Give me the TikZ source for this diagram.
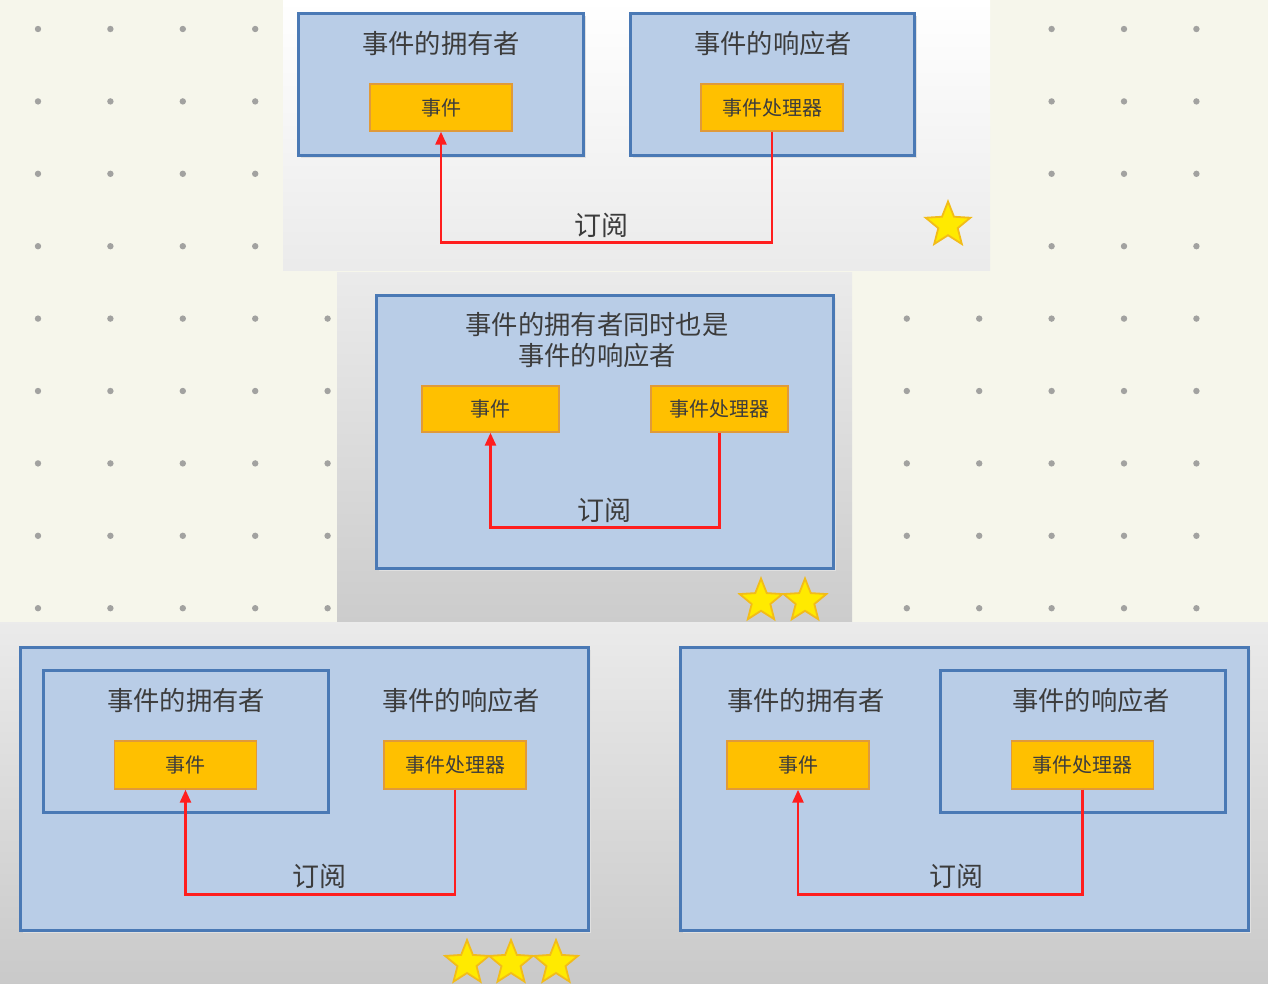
\documentclass[tikz,border=0pt]{standalone}
\usepackage{fontspec}
\setmainfont{Noto Sans CJK SC}
\usetikzlibrary{shapes.geometric,arrows.meta}
\definecolor{cream}{HTML}{F6F6EB}
\definecolor{dotgray}{HTML}{A2A2A0}
\definecolor{boxfill}{HTML}{B9CDE7}
\definecolor{boxline}{HTML}{4A79B5}
\definecolor{evfill}{HTML}{FFC000}
\definecolor{evline}{HTML}{E09A3A}
\definecolor{txt}{HTML}{3C3C3C}
\definecolor{subred}{HTML}{FF1E1E}
\definecolor{staryel}{HTML}{FFEA00}
\definecolor{starorg}{HTML}{F2BC1A}
\tikzset{
  bluebox/.style={draw=boxline, fill=boxfill, line width=3pt, inner sep=0pt},
  evbox/.style={draw=evline, fill=evfill, line width=1.4pt, inner sep=0pt,
    minimum width=142, minimum height=47, text=txt, font=\fontsize{20}{22}\selectfont},
  title/.style={text=txt, inner sep=0pt, font=\fontsize{26.3}{31}\selectfont, align=center},
  sublabel/.style={text=txt, inner sep=0pt, font=\fontsize{27}{30}\selectfont},
  subline/.style={draw=subred, line width=2.6pt, -{Triangle[width=11pt,length=13pt]}},
  starbox/.style={star, star points=5, star point ratio=2.3, fill=staryel,
    draw=starorg, line width=1.8pt, minimum size=47, inner sep=0pt},
  dotmark/.style={fill=dotgray},
  shadowbox/.style={fill=black!12}
}
\begin{document}
\begin{tikzpicture}[x=1pt,y=-1pt]
\useasboundingbox (0,0) rectangle (1268,983);
\fill[cream] (0,0) rectangle (1268,983);
% dot grid
\foreach \i in {0,...,16} {
  \foreach \j in {0,...,8} {
    \fill[dotmark] ({38+72.4*\i},{29+72.4*\j}) circle (3.2);
  }
}
% panels
\shade[top color=white, bottom color=black!8] (283,0) rectangle (990,270);
\shade[top color=black!8, bottom color=black!20] (337,272) rectangle (852,622);
\shade[top color=black!8, bottom color=black!21] (0,622) rectangle (1268,983);

% ===== panel 1 =====
\fill[shadowbox] (301,16) rectangle (586,158);
\fill[shadowbox] (633,16) rectangle (917,158);
\node[bluebox, minimum width=285, minimum height=142] (own1) at (440.5,84) {};
\node[bluebox, minimum width=284, minimum height=142] (res1) at (772,84) {};
\node[title] (own1t) at (441,43) {事件的拥有者};
\node[title] (res1t) at (773,43) {事件的响应者};
\node[evbox] (ev1) at (441,107.5) {事件};
\node[evbox] (hd1) at (772,107.5) {事件处理器};
\draw[subline] (hd1.south) -- ++(0,111) -| (ev1.south);
\node[sublabel] (sl1) at (601,225) {订阅};
\node[starbox] (st1) at (948,225) {};

% ===== panel 2 =====
\fill[shadowbox] (379,298) rectangle (836,571);
\node[bluebox, minimum width=457, minimum height=273] (both2) at (604.5,431.5) {};
\node[title] (both2t) at (597,340) {事件的拥有者同时也是\\事件的响应者};
\node[evbox, minimum width=137, minimum height=46] (ev2) at (490.5,409) {事件};
\node[evbox, minimum width=137, minimum height=46] (hd2) at (719.5,409) {事件处理器};
\draw[subline] (hd2.south) -- ++(0,95) -| (ev2.south);
\node[sublabel] (sl2) at (604,510) {订阅};
\node[starbox, minimum size=45] (st2a) at (761,601) {};
\node[starbox, minimum size=45] (st2b) at (805,601) {};

% ===== panel 3 (left) =====
\fill[shadowbox] (23,650) rectangle (591,933);
\node[bluebox, minimum width=568, minimum height=283] (out3) at (304,788.5) {};
\node[bluebox, minimum width=285, minimum height=142] (own3) at (185.5,741) {};
\node[title] (own3t) at (186,700) {事件的拥有者};
\node[title] (res3t) at (461,700) {事件的响应者};
\node[evbox, minimum height=48] (ev3) at (185.5,765) {事件};
\node[evbox, minimum height=48] (hd3) at (455,765) {事件处理器};
\draw[subline] (hd3.south) -- ++(0,105) -| (ev3.south);
\node[sublabel] (sl3) at (319,876) {订阅};
\node[starbox, minimum size=46] (st3a) at (467,963) {};
\node[starbox, minimum size=46] (st3b) at (511,963) {};
\node[starbox, minimum size=46] (st3c) at (556,963) {};

% ===== panel 4 (right) =====
\fill[shadowbox] (683,650) rectangle (1251,933);
\node[bluebox, minimum width=568, minimum height=283] (out4) at (964,788.5) {};
\node[bluebox, minimum width=285, minimum height=142] (res4) at (1082.5,741) {};
\node[title] (own4t) at (806,700) {事件的拥有者};
\node[title] (res4t) at (1091,700) {事件的响应者};
\node[evbox, minimum height=48] (ev4) at (798,765) {事件};
\node[evbox, minimum height=48] (hd4) at (1082.5,765) {事件处理器};
\draw[subline] (hd4.south) -- ++(0,105) -| (ev4.south);
\node[sublabel] (sl4) at (956,876) {订阅};
\end{tikzpicture}
\end{document}
